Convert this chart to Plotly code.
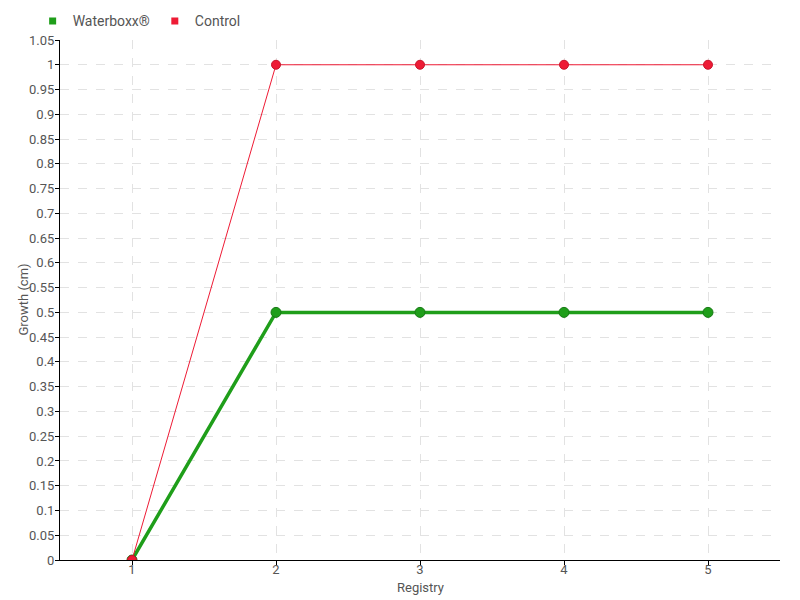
import plotly.graph_objects as go

# Data
registry = [1, 2, 3, 4, 5]
waterboxx_growth = [0, 0.5, 0.5, 0.5, 0.5]
control_growth = [0, 1, 1, 1, 1]

COLOURS = {
    "waterboxx": "#1f9e1a",
    "waterboxx_edge": "#187a15",
    "control": "#ee1b35",
    "control_edge": "#c8142a",
    "grid": "#e2e2e2",
    "text": "#555555",
}

FONT = "Roboto, sans-serif"

fig = go.Figure()

fig.add_trace(go.Scatter(
    x=registry, y=waterboxx_growth,
    mode="lines+markers",
    name="Waterboxx®",
    line=dict(color=COLOURS["waterboxx"], width=3.5),
    marker=dict(size=10, color=COLOURS["waterboxx"],
                line=dict(color=COLOURS["waterboxx_edge"], width=1)),
    showlegend=False,
))

fig.add_trace(go.Scatter(
    x=registry, y=control_growth,
    mode="lines+markers",
    name="Control",
    line=dict(color=COLOURS["control"], width=1),
    marker=dict(size=9, color=COLOURS["control"],
                line=dict(color=COLOURS["control_edge"], width=1)),
    showlegend=False,
))

# Legend entries with square swatches
for name, colour in [("Waterboxx®", COLOURS["waterboxx"]), ("Control", COLOURS["control"])]:
    fig.add_trace(go.Scatter(
        x=[None], y=[None],
        mode="markers",
        name=name,
        marker=dict(symbol="square", size=7, color=colour),
    ))

# Page body has an 8px margin, so offsets compensate for it
fig.update_layout(
    width=800, height=600,
    paper_bgcolor="white",
    plot_bgcolor="white",
    font=dict(family=FONT, size=13, color=COLOURS["text"]),
    margin=dict(l=52, r=28, t=32, b=48, autoexpand=False),
    legend=dict(orientation="h", x=-0.038, y=1.005, xanchor="left", yanchor="bottom",
                font=dict(size=14), itemwidth=30, tracegroupgap=0,
                bgcolor="rgba(0,0,0,0)"),
    showlegend=True,
    annotations=[
        dict(text="Registry", xref="paper", yref="paper", x=0.5, y=-0.034,
             xanchor="center", yanchor="top", showarrow=False, font=dict(size=13)),
        dict(text="Growth (cm)", xref="paper", yref="paper", x=-0.052, y=0.5,
             xanchor="center", yanchor="middle", textangle=-90, showarrow=False,
             font=dict(size=13)),
    ],
)

fig.update_xaxes(
    automargin=False,
    range=[0.5, 5.5],
    tickmode="array", tickvals=registry, ticktext=[str(v) for v in registry],
    showline=True, linecolor="black", linewidth=1,
    ticks="outside", ticklen=4, tickcolor="black",
    ticklabelstandoff=-7,
    showgrid=True, gridcolor=COLOURS["grid"], griddash="dash",
    zeroline=False,
)

fig.update_yaxes(
    automargin=False,
    range=[0, 1.05],
    dtick=0.05, tick0=0,
    showline=True, linecolor="black", linewidth=1,
    ticks="outside", ticklen=4, tickcolor="black",
    ticklabelstandoff=-2,
    showgrid=True, gridcolor=COLOURS["grid"], griddash="dash",
    zeroline=False,
)

fig.write_html("out.html")
